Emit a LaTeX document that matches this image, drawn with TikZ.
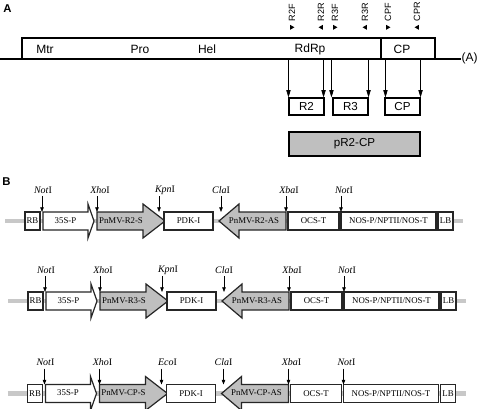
\documentclass[tikz,border=0pt]{standalone}
\usepackage{fontspec}
\setmainfont{Liberation Serif}
\setsansfont{Liberation Sans}
\usetikzlibrary{arrows.meta}
\definecolor{boxgray}{HTML}{BFBFBF}
\definecolor{bbgray}{HTML}{C8C8C8}
\tikzset{
 panel/.style={font=\sffamily\bfseries\fontsize{8.5}{9}\selectfont, inner sep=0},
 lab/.style={font=\sffamily\fontsize{9}{10}\selectfont, inner sep=0},
 prim/.style={font=\sffamily\fontsize{6.8}{7}\selectfont, inner sep=0, rotate=90, anchor=west},
 abox/.style={draw, line width=0.8pt, inner sep=0, minimum height=17*0.75pt, font=\sffamily\fontsize{8.7}{9}\selectfont},
 arrA/.style={-{Triangle[length=5.5pt,width=3.2pt]}, line width=0.6pt},
 bbox/.style={draw=black!85, line width=0.9pt, fill=white, inner sep=0, minimum height=18*0.75pt, font=\fontsize{6.6}{7}\selectfont},
 garrow/.style={draw=black!85, line width=0.9pt},
 gtext/.style={font=\fontsize{6.6}{7}\selectfont, inner sep=0},
 site/.style={font=\fontsize{7.5}{8}\selectfont, inner sep=0},
 arrB/.style={-{Triangle[length=3.5pt,width=2.6pt]}, line width=0.5pt},
 backbone/.style={draw=bbgray, line width=3.5pt},
}
\newcommand\construct[5]{%
\begin{scope}[shift={#2}]
 \coordinate (#1bbL) at (5,221);
 \coordinate (#1bbR) at (463,221);
 \draw[backbone] (#1bbL) -- (#1bbR);
 \node[bbox, minimum width=15*0.75pt] (#1rb) at (32.5,221) {RB};
 \draw[garrow, fill=white] (43,212) -- (88,212) -- (88,204) -- (94,221) -- (88,238) -- (88,230) -- (43,230) -- cycle;
 \node[gtext] (#1p35) at (65.5,220.5) {35S-P};
 \draw[garrow, fill=boxgray] (97,212) -- (143,212) -- (143,204) -- (165,221) -- (143,238) -- (143,230) -- (97,230) -- cycle;
 \node[gtext] (#1sense) at (121,220.5) {PnMV-#3-S};
 \node[bbox, minimum width=49*0.75pt] (#1pdk) at (188.5,221) {PDK-I};
 \draw[garrow, fill=boxgray] (219,221) -- (239,204) -- (239,212) -- (286,212) -- (286,230) -- (239,230) -- (239,238) -- cycle;
 \node[gtext] (#1anti) at (254,220.5) {PnMV-#3-AS};
 \node[bbox, minimum width=51*0.75pt] (#1ocs) at (313.5,221) {OCS-T};
 \node[bbox, minimum width=95*0.75pt] (#1nos) at (388.5,221) {NOS-P/NPTII/NOS-T};
 \node[bbox, minimum width=15*0.75pt] (#1lb) at (445.5,221) {LB};
 % restriction sites
 \node[site] (#1s1) at (43,190) {\textit{Not}I};
 \node[site] (#1s2) at (100,190) {\textit{Xho}I};
 \node[site] (#1s3) at (165,190) {\textit{#4}I};
 \node[site] (#1s4) at (221,190) {\textit{Cla}I};
 \node[site] (#1s5) at (289,190) {\textit{Xba}I};
 \node[site] (#1s6) at (344,190) {\textit{Not}I};
 \foreach \k/\x in {1/42,2/97,3/159,4/221,5/286,6/341}{
  \coordinate (#1a\k) at (\x,196);
  \coordinate (#1b\k) at (\x,212);
  \draw[arrB] (#1a\k) -- (#1b\k);
 }
\end{scope}}
\begin{document}
\begin{tikzpicture}[x=0.75pt,y=-0.75pt]
\useasboundingbox (0,0) rectangle (481,408);
% ---------- Panel A ----------
\node[panel] (pa) at (7.5,9) {A};
\node[lab] (polyA) at (469.5,58.5) {(A)};
\coordinate (lineL) at (0,58.5);
\draw[line width=1.5pt] (lineL) -- (polyA.west);
\draw[line width=0.8pt] (22,58.5) -- (22,38) -- (435,38) -- (435,58.5);
\draw[line width=0.8pt] (381,38) -- (381,58.5);
\node[lab] (mtr) at (45,49.5) {Mtr};
\node[lab] (pro) at (140,49.5) {Pro};
\node[lab] (hel) at (207,49.5) {Hel};
\node[lab] (rdrp) at (310,49.5) {RdRp};
\node[lab] (cpA) at (402,49.5) {CP};
% primers
\foreach \x/\t/\d in {292/R2F/1,321/R2R/-1,335/R3F/1,365/R3R/-1,388/CPF/1,417/CPR/-1}{
  \node[prim] at (\x,21.5) {\t};
  \fill (\x-1.9*\d,24.8) -- (\x+2.4*\d,27.3) -- (\x-1.9*\d,29.8) -- cycle;
}
% fragments
\node[abox, minimum width=35*0.75pt] (r2) at (306.5,106.5) {R2};
\node[abox, minimum width=35*0.75pt] (r3) at (350.5,106.5) {R3};
\node[abox, minimum width=35*0.75pt] (cpb) at (402.5,106.5) {CP};
\node[abox, fill=boxgray, minimum width=131*0.75pt, minimum height=24*0.75pt] (pr2cp) at (354.5,144) {pR2-CP};
\draw[arrA] (r2.north west |- lineL) -- (r2.north west);
\draw[arrA] ([xshift=-0.75pt]r2.north east |- lineL) -- ([xshift=-0.75pt]r2.north east);
\draw[arrA] ([xshift=-0.75pt]r3.north west |- lineL) -- ([xshift=-0.75pt]r3.north west);
\draw[arrA] (r3.north east |- lineL) -- (r3.north east);
\draw[arrA] ([xshift=0.75pt]cpb.north west |- lineL) -- ([xshift=0.75pt]cpb.north west);
\draw[arrA] (cpb.north east |- lineL) -- (cpb.north east);
% ---------- Panel B ----------
\node[panel] (pb) at (6.5,182) {B};
\construct{ra}{(0,0)}{R2}{Kpn}{}
\construct{rb}{(3,80)}{R3}{Kpn}{}
\construct{rc}{(2.5,172.5)}{CP}{Eco}{}
\end{tikzpicture}
\end{document}
